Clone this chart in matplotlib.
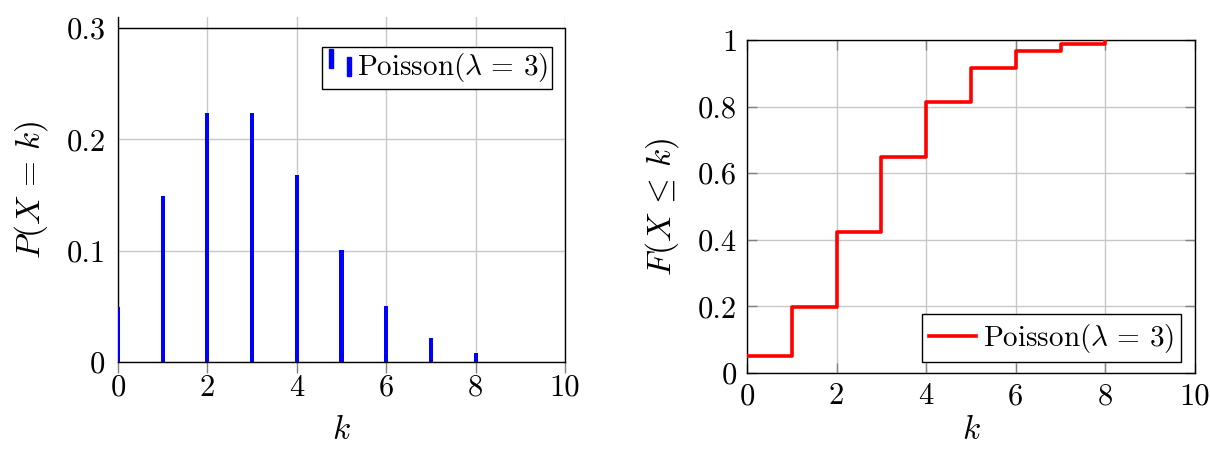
import matplotlib
matplotlib.use("Agg")
import matplotlib.pyplot as plt
from matplotlib.legend_handler import HandlerBase
from matplotlib.patches import Rectangle

# ---- data ----
k_values = [0, 1, 2, 3, 4, 5, 6, 7, 8]
pmf_values = [0.0498, 0.1494, 0.2240, 0.2240, 0.1680, 0.1008, 0.0504, 0.0216, 0.0081]
cdf_values = [0.0498, 0.1991, 0.4232, 0.6472, 0.8153, 0.9161, 0.9665, 0.9881, 0.9962]
x_ticks = [0, 2, 4, 6, 8, 10]
pmf_yticks = [0, 0.1, 0.2, 0.3]
pmf_yticklabels = ["0", "0.1", "0.2", "0.3"]
cdf_yticks = [0, 0.2, 0.4, 0.6, 0.8, 1]
cdf_yticklabels = ["0", "0.2", "0.4", "0.6", "0.8", "1"]
legend_label = r"Poisson($\lambda\,=\,3$)"

plt.rcParams["font.family"] = "serif"
plt.rcParams["font.serif"] = ["cmr10", "DejaVu Serif"]
plt.rcParams["mathtext.fontset"] = "cm"
plt.rcParams["axes.formatter.use_mathtext"] = True

FS = 22
LFS = 24
LEGFS = 21
GRID = "#c8c8c8"
TICK = "#808080"

fig = plt.figure(figsize=(12.1, 4.5), dpi=100)

# ---------- left: PMF ----------
ax1 = fig.add_axes([118/1210, 1-362/450, 447/1210, 345/450])
ax1.set_xlim(0, 10)
ax1.set_ylim(0, 0.3 * 345/334)
ax1.bar(k_values, pmf_values, width=0.09, color="blue", zorder=3)
ax1.set_xticks(x_ticks)
ax1.set_xticklabels([str(t) for t in x_ticks])
ax1.set_yticks(pmf_yticks)
ax1.set_yticklabels(pmf_yticklabels)
ax1.grid(True, color=GRID, lw=1.0, zorder=0)
ax1.set_axisbelow(True)
ax1.spines["top"].set_visible(False)
ax1.spines["right"].set_bounds(0, 0.3)
for s in ax1.spines.values():
    s.set_linewidth(1.0)
ax1.axhline(0.3, color="black", lw=1.0, zorder=4)
ax1.tick_params(axis="x", direction="out", length=8, color=TICK, width=1, labelsize=FS, pad=1)
ax1.tick_params(axis="y", direction="in", length=0, labelsize=FS, pad=9)
ax1.set_xlabel(r"$k$", fontsize=LFS, labelpad=10)
ax1.set_ylabel(r"$P(X\,=\,k)$", fontsize=LFS, labelpad=12)


class TwoBarHandler(HandlerBase):
    def create_artists(self, legend, orig_handle, xdescent, ydescent,
                       width, height, fontsize, trans):
        h = height * 0.95
        w = 2.8
        base = -ydescent
        r1 = Rectangle((-xdescent + 2.0, base + height * 0.35), w, h,
                       color="blue", transform=trans)
        r2 = Rectangle((-xdescent + width - w - 1.0, base - height * 0.05), w, h,
                       color="blue", transform=trans)
        return [r1, r2]


proxy = Rectangle((0, 0), 1, 1, color="blue")
leg1 = ax1.legend([proxy], [legend_label], handler_map={Rectangle: TwoBarHandler()},
                  loc="upper right", bbox_to_anchor=(0.971, 0.913), borderaxespad=0,
                  fontsize=LEGFS, fancybox=False, framealpha=1, edgecolor="black",
                  handlelength=0.9, handletextpad=0.15, borderpad=0.15)
leg1.get_frame().set_linewidth(1.0)

# ---------- right: CDF ----------
ax2 = fig.add_axes([747/1210, 1-373/450, 448/1210, 333/450])
ax2.set_xlim(0, 10)
ax2.set_ylim(0, 1)
ax2.plot(k_values, cdf_values, drawstyle="steps-post", color="red", lw=2.6,
         label=legend_label, zorder=3)
ax2.set_xticks(x_ticks)
ax2.set_xticklabels([str(t) for t in x_ticks])
ax2.set_yticks(cdf_yticks)
ax2.set_yticklabels(cdf_yticklabels)
ax2.grid(True, color=GRID, lw=1.0, zorder=0)
ax2.set_axisbelow(True)
for s in ax2.spines.values():
    s.set_linewidth(1.0)
ax2.tick_params(axis="both", which="both", direction="in", length=7, color=TICK, width=1,
                top=True, right=True, labelsize=FS)
ax2.tick_params(axis="x", pad=7)
ax2.tick_params(axis="y", pad=7)
ax2.set_xlabel(r"$k$", fontsize=LFS, labelpad=4)
ax2.set_ylabel(r"$F(X\,\leq\,k)$", fontsize=LFS, labelpad=12)
leg2 = ax2.legend(loc="lower right", bbox_to_anchor=(0.969, 0.033), borderaxespad=0,
                  fontsize=LEGFS, fancybox=False, framealpha=1, edgecolor="black",
                  handlelength=1.6, handletextpad=0.25, borderpad=0.25)
leg2.get_frame().set_linewidth(1.0)

fig.savefig("out.png", dpi=100)
